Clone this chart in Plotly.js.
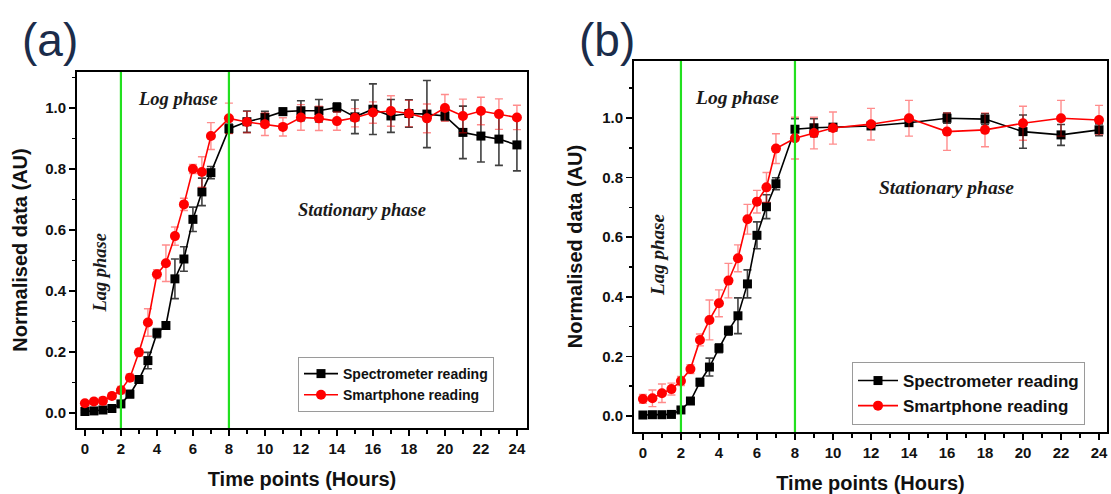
<!DOCTYPE html>
<html>
<head>
<meta charset="utf-8">
<script src="https://cdn.plot.ly/plotly-3.0.1.min.js"></script>
<style>html,body{margin:0;padding:0;background:#fff;}#chart{width:1111px;height:494px;}</style>
</head>
<body>
<div id="chart"></div>
<script>
// ---------- Panel (a) data ----------
const timeA = [0,0.5,1,1.5,2,2.5,3,3.5,4,4.5,5,5.5,6,6.5,7,8,9,10,11,12,13,14,15,16,17,18,19,20,21,22,23,24];
const specA = [0.005,0.007,0.01,0.015,0.03,0.062,0.11,0.172,0.262,0.287,0.44,0.505,0.635,0.725,0.788,0.932,0.955,0.969,0.988,0.991,0.991,1.002,0.971,0.996,0.974,0.982,0.98,0.974,0.92,0.908,0.898,0.879];
const specErrA = [0.004,0.004,0.005,0.005,0.008,0.012,0.012,0.027,0.015,0.012,0.065,0.04,0.04,0.045,0.02,0.015,0.035,0.02,0.012,0.033,0.037,0.015,0.055,0.083,0.054,0.045,0.11,0.015,0.086,0.085,0.086,0.085];
const phoneA = [0.032,0.038,0.04,0.056,0.075,0.116,0.199,0.297,0.455,0.491,0.58,0.684,0.80,0.79,0.908,0.966,0.954,0.947,0.938,0.969,0.966,0.957,0.968,0.985,0.99,0.982,0.966,1.0,0.974,0.99,0.98,0.969];
const phoneErrA = [0.008,0.01,0.012,0.01,0.012,0.012,0.012,0.045,0.015,0.06,0.03,0.02,0.015,0.05,0.044,0.05,0.035,0.037,0.03,0.042,0.04,0.03,0.03,0.035,0.05,0.043,0.047,0.044,0.055,0.045,0.05,0.04];

// ---------- Panel (b) data ----------
const timeB = [0,0.5,1,1.5,2,2.5,3,3.5,4,4.5,5,5.5,6,6.5,7,8,9,10,12,14,16,18,20,22,24];
const specB = [0.003,0.004,0.004,0.005,0.02,0.05,0.113,0.164,0.227,0.286,0.336,0.443,0.606,0.702,0.779,0.962,0.967,0.969,0.973,0.984,0.999,0.996,0.954,0.943,0.96];
const specErrB = [0.003,0.003,0.003,0.003,0.006,0.01,0.012,0.03,0.015,0.015,0.06,0.047,0.045,0.04,0.02,0.035,0.03,0.01,0.01,0.01,0.017,0.018,0.056,0.035,0.02];
const phoneB = [0.057,0.059,0.076,0.09,0.117,0.157,0.255,0.322,0.378,0.454,0.529,0.66,0.719,0.767,0.897,0.932,0.949,0.966,0.979,0.999,0.954,0.96,0.982,0.999,0.993];
const phoneErrB = [0.015,0.028,0.031,0.02,0.015,0.015,0.02,0.067,0.045,0.058,0.045,0.05,0.038,0.05,0.05,0.07,0.053,0.054,0.053,0.06,0.063,0.057,0.057,0.06,0.049];

const seriesNames = ["Spectrometer reading", "Smartphone reading"];
const phaseBoundaries = [2, 8];
const phaseLabels = ["Lag phase", "Log phase", "Stationary phase"];
const panelLabels = ["(a)", "(b)"];

const SANS = "Liberation Sans, Arial, sans-serif";
const SERIF = "Liberation Serif, Times New Roman, serif";

function specTrace(x, y, e, xa, ya, leg) {
  return {x: x, y: y, xaxis: xa, yaxis: ya, legend: leg, name: seriesNames[0], type: 'scatter', mode: 'lines+markers',
    line: {color: '#000', width: 1.6},
    marker: {symbol: 'square', size: 9, color: '#000'},
    error_y: {type: 'data', array: e, visible: true, color: 'rgba(0,0,0,0.75)', thickness: 1.6, width: 4}};
}
function phoneTrace(x, y, e, xa, ya, leg) {
  return {x: x, y: y, xaxis: xa, yaxis: ya, legend: leg, name: seriesNames[1], type: 'scatter', mode: 'lines+markers',
    line: {color: '#ff0000', width: 1.6},
    marker: {symbol: 'circle', size: 10, color: '#ff0000'},
    error_y: {type: 'data', array: e, visible: true, color: 'rgba(255,0,0,0.45)', thickness: 1.4, width: 4}};
}

const data = [
  specTrace(timeA, specA, specErrA, 'x', 'y', 'legend'),
  phoneTrace(timeA, phoneA, phoneErrA, 'x', 'y', 'legend'),
  specTrace(timeB, specB, specErrB, 'x2', 'y2', 'legend2'),
  phoneTrace(timeB, phoneB, phoneErrB, 'x2', 'y2', 'legend2')
];

function xAxis(domain, range, anchor) {
  return {domain: domain, range: range, anchor: anchor, tickmode: 'linear', tick0: 0, dtick: 2,
    ticks: 'outside', ticklen: 6, tickwidth: 1.6, tickcolor: '#000',
    minor: {dtick: 1, ticks: 'outside', ticklen: 3.5, tickwidth: 1.6, tickcolor: '#000', showgrid: false},
    showline: true, linecolor: '#000', linewidth: 2, mirror: true, showgrid: false, zeroline: false,
    tickfont: {family: SANS, size: 15, weight: 'bold', color: '#111'},
    title: {text: 'Time points (Hours)', font: {family: SANS, size: 20, weight: 'bold', color: '#111'}, standoff: 16}};
}
function yAxis(domain, range, anchor, standoff) {
  return {domain: domain, range: range, anchor: anchor, tickmode: 'linear', tick0: 0, dtick: 0.2, tickformat: '.1f',
    ticks: 'outside', ticklen: 6, tickwidth: 1.6, tickcolor: '#000',
    minor: {dtick: 0.1, ticks: 'outside', ticklen: 3.5, tickwidth: 1.6, tickcolor: '#000', showgrid: false},
    showline: true, linecolor: '#000', linewidth: 2, mirror: true, showgrid: false, zeroline: false,
    tickfont: {family: SANS, size: 15, weight: 'bold', color: '#111'},
    title: {text: 'Normalised data (AU)', font: {family: SANS, size: 20, weight: 'bold', color: '#111'}, standoff: standoff}};
}

const shapes = [];
[['x','y'],['x2','y2']].forEach(function(p){
  phaseBoundaries.forEach(function(b){
    shapes.push({type: 'line', xref: p[0], yref: p[1] + ' domain', x0: b, x1: b, y0: 0, y1: 1,
      line: {color: '#22e01f', width: 2.2}});
  });
});

const phaseFont = function(sz){ return {family: SERIF, size: sz, style: 'italic', weight: 'bold', color: '#1a1a1a'}; };
const annotations = [
  {text: phaseLabels[1], xref: 'x', yref: 'y', x: 5.17, y: 1.03, showarrow: false, font: phaseFont(18.5)},
  {text: phaseLabels[0], xref: 'x', yref: 'y', x: 0.83, y: 0.46, showarrow: false, textangle: -90, font: phaseFont(18.5)},
  {text: phaseLabels[2], xref: 'x', yref: 'y', x: 15.4, y: 0.665, showarrow: false, font: phaseFont(18.5)},
  {text: phaseLabels[1], xref: 'x2', yref: 'y2', x: 4.95, y: 1.07, showarrow: false, font: phaseFont(19.5)},
  {text: phaseLabels[0], xref: 'x2', yref: 'y2', x: 0.79, y: 0.54, showarrow: false, textangle: -90, font: phaseFont(19)},
  {text: phaseLabels[2], xref: 'x2', yref: 'y2', x: 16.0, y: 0.765, showarrow: false, font: phaseFont(19.5)},
  {text: panelLabels[0], xref: 'paper', yref: 'paper', x: 50/1111, y: 1 - 40/494, xanchor: 'center', yanchor: 'middle',
    showarrow: false, font: {family: SANS, size: 46, color: '#1b2c4a'}},
  {text: panelLabels[1], xref: 'paper', yref: 'paper', x: 607/1111, y: 1 - 40/494, xanchor: 'center', yanchor: 'middle',
    showarrow: false, font: {family: SANS, size: 46, color: '#1b2c4a'}}
];

const layout = {
  width: 1111, height: 494,
  margin: {l: 0, r: 0, t: 0, b: 0},
  paper_bgcolor: '#fff', plot_bgcolor: '#fff',
  showlegend: true,
  xaxis: xAxis([77/1111, 527/1111], [-0.44, 24.56], 'y'),
  yaxis: yAxis([1 - 428/494, 1 - 72/494], [-0.049, 1.118], 'x', 12),
  xaxis2: xAxis([634/1111, 1107/1111], [-0.47, 24.42], 'y2'),
  yaxis2: yAxis([1 - 432/494, 1 - 61/494], [-0.054, 1.191], 'x2', 14),
  legend: {x: 298/1111, y: 1 - 357/494, xanchor: 'left', yanchor: 'top', bgcolor: '#fff',
    bordercolor: '#9a9a9a', borderwidth: 1, font: {family: SANS, size: 14, weight: 'bold', color: '#111'},
    tracegroupgap: 0, itemwidth: 34},
  legend2: {x: 852/1111, y: 1 - 362/494, xanchor: 'left', yanchor: 'top', bgcolor: '#fff',
    bordercolor: '#9a9a9a', borderwidth: 1, font: {family: SANS, size: 17, weight: 'bold', color: '#111'},
    tracegroupgap: 0, itemwidth: 40},
  shapes: shapes,
  annotations: annotations
};

Plotly.newPlot('chart', data, layout, {displayModeBar: false, staticPlot: true});
</script>
</body>
</html>
